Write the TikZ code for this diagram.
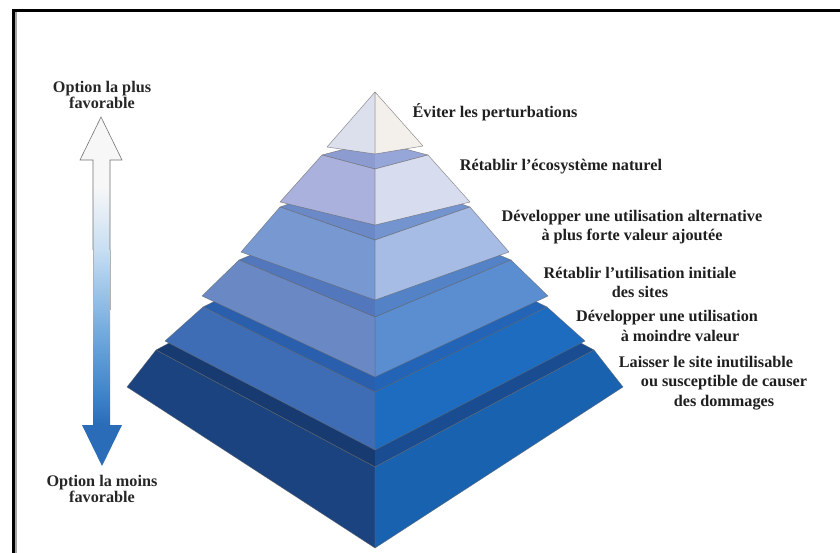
\documentclass[tikz,border=0pt]{standalone}
\usepackage{fontspec}
\setmainfont{Liberation Serif}
\definecolor{t1left}{HTML}{DCDFEC}
\definecolor{t1right}{HTML}{F3F0EC}
\definecolor{t2ledgeL}{HTML}{8D9CD0}
\definecolor{t2ledgeR}{HTML}{97A6D9}
\definecolor{t2left}{HTML}{A9B1DC}
\definecolor{t2right}{HTML}{D8DCEF}
\definecolor{t3ledgeL}{HTML}{6B89C6}
\definecolor{t3ledgeR}{HTML}{7394CE}
\definecolor{t3left}{HTML}{7898D2}
\definecolor{t3right}{HTML}{A6BCE5}
\definecolor{t4ledgeL}{HTML}{5277BC}
\definecolor{t4ledgeR}{HTML}{5482C6}
\definecolor{t4left}{HTML}{6A89C4}
\definecolor{t4right}{HTML}{5B8DD1}
\definecolor{t5ledgeL}{HTML}{2A5FAE}
\definecolor{t5ledgeR}{HTML}{2464B6}
\definecolor{t5left}{HTML}{3E6DB6}
\definecolor{t5right}{HTML}{1D6CC0}
\definecolor{t6ledgeL}{HTML}{173A70}
\definecolor{t6ledgeR}{HTML}{1A4C92}
\definecolor{t6left}{HTML}{1B4380}
\definecolor{t6right}{HTML}{1862B0}
\definecolor{arW}{HTML}{F7F7F8}
\definecolor{arL}{HTML}{C8DEF2}
\definecolor{arM}{HTML}{74ACDF}
\definecolor{arD}{HTML}{3A80C8}
\definecolor{arB}{HTML}{2A6CB8}
\pgfdeclareverticalshading{arrowshade}{100bp}{color(0bp)=(arB); color(31bp)=(arB); color(34.5bp)=(arD); color(44.5bp)=(arM); color(56bp)=(arL); color(65bp)=(arW); color(100bp)=(arW)}
% #1 top half-width, #2 top front y, #3 top side y, #4 bottom half-width, #5 bottom front y, #6 bottom side y, #7 colour prefix
\newcommand\pyrtier[7]{%
  \pgfmathsetmacro\pyrback{2*#3-#2}%
  \fill[#7ledgeL] (375-#1,#3) -- (375,#2) -- (375,\pyrback) -- cycle;
  \fill[#7ledgeR] (375+#1,#3) -- (375,#2) -- (375,\pyrback) -- cycle;
  \draw[pyredge] (375-#1,#3) -- (375,#2) -- (375+#1,#3) -- (375,\pyrback) -- cycle;
  \filldraw[fill=#7left, pyredge] (375-#1,#3) -- (375,#2) -- (375,#5) -- (375-#4,#6) -- cycle;
  \filldraw[fill=#7right, pyredge] (375+#1,#3) -- (375,#2) -- (375,#5) -- (375+#4,#6) -- cycle;
}
\begin{document}
\begin{tikzpicture}[x=1pt,y=-1pt,
  lbl/.style={font=\bfseries\fontsize{16.2}{19.5}\selectfont, align=center, inner sep=0pt, text=black!88},
  lblside/.style={font=\bfseries\fontsize{16.2}{16}\selectfont, align=center, inner sep=0pt, text=black!85},
  pyredge/.style={draw=black!60, draw opacity=0.7, line width=0.5pt, line join=round}]
\useasboundingbox (0,0) rectangle (840,553);
\fill[white] (0,0) rectangle (840,553);
% frame
\draw[black!35, line width=1.5pt] (16.2,553) -- (16.2,12);
\draw[black, line width=3pt] (13,553) -- (13,10.5) -- (840,10.5);

% scale arrow
\shade[shading=arrowshade]
  (101,117) -- (122,160) -- (110,160) -- (110,425) -- (122,425) -- (102,466)
  -- (82,425) -- (93,425) -- (93,160) -- (80,160) -- cycle;
\draw[black!55, line width=0.6pt, line join=miter]
  (93,250) -- (93,160) -- (80,160) -- (101,117) -- (122,160) -- (110,160) -- (110,250);
\draw[black!30, line width=0.5pt] (93,250) -- (93,310) (110,250) -- (110,310);

% pyramid, bottom tier first
\pyrtier{219}{467}{350}{248}{548}{387}{t6}
\pyrtier{172}{392}{307}{210}{450}{341}{t5}
\pyrtier{136}{317}{260}{173}{377}{296}{t4}
\pyrtier{95}{240}{207}{134}{300}{252}{t3}
\pyrtier{53}{169}{155}{95}{225}{202}{t2}
\filldraw[fill=t1left, pyredge] (375,92) -- (375,154) -- (327,147) -- cycle;
\filldraw[fill=t1right, pyredge] (375,92) -- (375,154) -- (423,146) -- cycle;

% labels
\node[lblside] (best) at (102,95) {Option la plus\\favorable};
\node[lblside] (worst) at (102,489) {Option la moins\\favorable};
\node[lbl] (l1) at (495,112) {Éviter les perturbations};
\node[lbl] (l2) at (561,167) {Rétablir l’écosystème naturel};
\node[lbl] (l3) at (632,227) {Développer une utilisation alternative\\à plus forte valeur ajoutée};
\node[lbl] (l4) at (640,282.5) {Rétablir l’utilisation initiale\\des sites};
\node[lbl] (l5) at (680,326) {Développer une utilisation\hspace*{26pt}\\à moindre valeur};
\node[lbl] (l6) at (724,383) {Laisser le site inutilisable\hspace*{36pt}\\ou susceptible de causer\\des dommages};
\end{tikzpicture}
\end{document}
